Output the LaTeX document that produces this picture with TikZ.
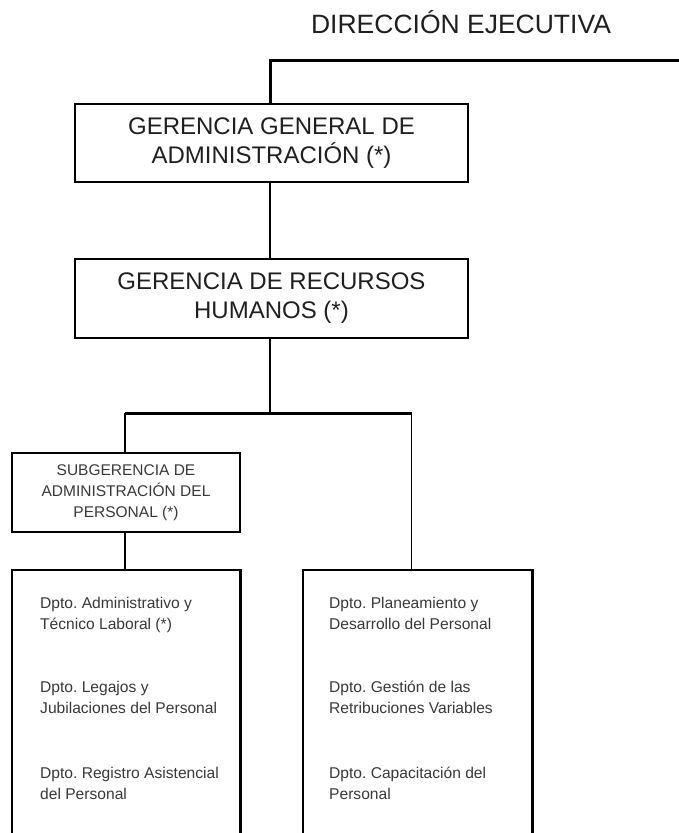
\documentclass[tikz,border=0pt]{standalone}
\usepackage{fontspec}
\setmainfont{Liberation Sans}
\frenchspacing
\begin{document}
\begin{tikzpicture}[x=1pt,y=-1pt,
  boxline/.style={line width=2.6pt},
  unitbox/.style={draw, boxline, inner sep=0pt, align=center, text=black!88},
  conn/.style={line width=1.7pt},
  bar/.style={line width=3pt},
  bigtext/.style={font=\fontsize{24}{29}\selectfont},
  subtext/.style={font=\fontsize{15.5}{21}\selectfont, text=black!78},
  depttext/.style={font=\fontsize{15.6}{21}\selectfont, text=black!78, align=left, anchor=base west, inner sep=0pt}
]
\useasboundingbox (0,0) rectangle (678,833);

% title
\node[anchor=base, inner sep=0pt, font=\fontsize{26.5}{30}\selectfont, text=black!88] (de) at (461,33) {DIRECCIÓN EJECUTIVA};

% boxes
\node[unitbox, bigtext, minimum width=393, minimum height=78] (g1) at (271.5,143) {GERENCIA GENERAL DE\\ADMINISTRACIÓN (*)};
\node[unitbox, bigtext, minimum width=393, minimum height=79] (g2) at (271.5,298.5) {GERENCIA DE RECURSOS\\HUMANOS (*)};
\node[unitbox, subtext, minimum width=228, minimum height=79] (sub) at (126,492.5) {SUBGERENCIA DE\\ADMINISTRACIÓN DEL\\PERSONAL (*)};

% open department boxes
\node[inner sep=0pt, minimum width=228, minimum height=270] (dl) at (126,705) {};
\node[inner sep=0pt, minimum width=229, minimum height=270] (dr) at (417.5,705) {};
\draw[boxline] (dl.south west) -- (dl.north west) -- (dl.north east) -- (dl.south east);
\draw[boxline] (dr.south west) -- (dr.north west) -- (dr.north east) -- (dr.south east);

% department texts (anchored at the baseline of the last line)
\node[depttext] (d1) at (40,629) {Dpto. Administrativo y\\Técnico Laboral (*)};
\node[depttext] (d2) at (40,713) {Dpto. Legajos y\\Jubilaciones del Personal};
\node[depttext] (d3) at (40,799) {Dpto. Registro Asistencial\\del Personal};
\node[depttext] (d4) at (329,629) {Dpto. Planeamiento y\\Desarrollo del Personal};
\node[depttext] (d5) at (329,713) {Dpto. Gestión de las\\Retribuciones Variables};
\node[depttext] (d6) at (329,799) {Dpto. Capacitación del\\Personal};

% connectors
\coordinate (j0) at (270,60);
\coordinate (jR) at (678,60);
\draw[bar] (270,104) -- (j0);
\draw[bar, line cap=rect] (j0) -- (jR);
\draw[conn] (g1.south -| j0) -- (g2.north -| j0);
\coordinate (j1) at (270,413);
\coordinate (jl) at (125,413);
\coordinate (jr) at (411.5,413);
\draw[conn] (g2.south -| j1) -- (j1);
\draw[bar] (jl) -- (jr);
\draw[conn] (jl) -- (sub.north -| jl);
\draw[conn] (jr) -- (dr.north -| jr);
\draw[conn] (sub.south -| jl) -- (dl.north -| jl);
\end{tikzpicture}
\end{document}
